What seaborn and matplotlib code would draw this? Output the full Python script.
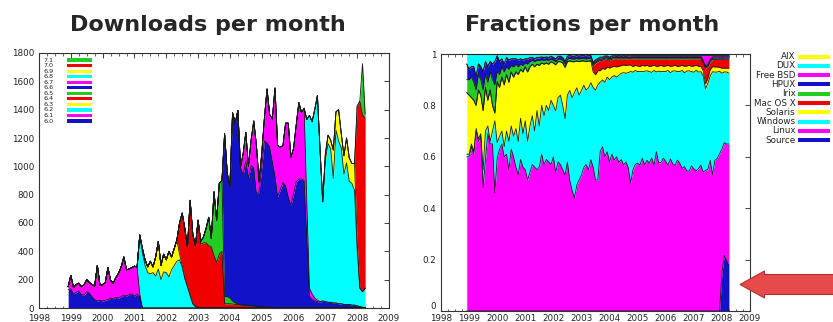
import numpy as np
import pandas as pd
import matplotlib
matplotlib.use("Agg")
import matplotlib.pyplot as plt
import seaborn as sns
from matplotlib.patches import Rectangle, Polygon
from matplotlib.ticker import MultipleLocator

# ---------------- data ----------------
FIRST_YEAR, FIRST_MONTH, N_MONTHS = 1998, 12, 113   # Dec 1998 .. Apr 2008

BLUE, MAGENTA, CYAN, YELLOW, RED, GREEN = "#1212C8", "#FF00FF", "#00FFFF", "#FFFF00", "#F00000", "#22CC22"

# Downloads per month, per release: (first month index, monthly downloads)
versions = ["6.0", "6.1", "6.2", "6.3", "6.4", "6.5", "6.6", "6.7", "6.8", "6.9", "7.0", "7.1"]
version_colors = [BLUE, MAGENTA, CYAN, YELLOW, RED, GREEN, BLUE, MAGENTA, CYAN, YELLOW, RED, GREEN]
v60_start, v60 = 0, [130, 135, 100, 110, 120, 95, 90, 115, 105, 80, 60, 50, 55, 50, 55, 60, 70, 65, 75, 70,
                     80, 90, 85, 95, 100, 85, 95, 80]
v61_start, v61 = 0, [20, 95, 45, 55, 55, 55, 75, 85, 75, 85, 95, 250, 105, 115, 125, 225, 125, 110, 140, 175,
                     210, 270, 185, 180, 185, 210, 195, 20]
v62_start, v62 = 27, [415, 390, 300, 250, 240, 250, 225, 275, 200, 255, 250, 220, 270, 300, 330, 340, 290, 210,
                      150, 90, 30, 10, 5]
v63_start, v63 = 28, [30, 40, 40, 90, 40, 135, 195, 100, 125, 90, 180, 90, 120, 150, 40, 10]
v64_start, v64 = 42, [220, 370, 350, 280, 670, 490, 430, 615, 450, 460, 460, 440, 430, 370, 320, 380, 400, 30,
                      30, 30, 28, 25, 25, 22, 20, 20, 18, 15, 15, 12, 10, 10, 8, 6, 5, 4, 3, 2, 1]
v65_start, v65 = 50, [20, 40, 100, 200, 60, 450, 300, 500, 500, 50, 50, 40, 20, 10, 5]
v66_start, v66 = 59, [1150, 870, 790, 1330, 1270, 1365, 970, 920, 1020, 900, 990, 975, 795, 810, 980, 1170,
                      1160, 1130, 1030, 930, 785, 835, 885, 865, 785, 725, 805, 890, 910, 910, 900, 500, 80,
                      60, 50, 45, 40, 50, 45, 40, 40, 35, 35, 30, 30, 25, 25, 25, 20, 20, 15, 10, 5, 0]
v67_start, v67 = 66, [150, 200, 80, 180, 330, 340, 70, 100, 160, 380, 230, 300, 620, 360, 300, 260, 440, 520,
                      340, 320, 400, 540, 470, 510, 250, 60, 40, 20, 10, 5]
v68_start, v68 = 90, [580, 1220, 1215, 1330, 1445, 1070, 700, 1000, 1120, 1085, 880, 1220, 1150, 1100, 920,
                      1000, 870, 860, 810, 400, 130, 110, 140]
v69_start, v69 = 97, [40, 60, 60, 200, 130, 220, 100, 130, 175, 165, 140, 190, 50]
v70_start, v70 = 109, [960, 1320, 1250, 1200]
v71_start, v71 = 110, [0, 360, 30]

# Fractions per month, per platform (shares of downloads)
platforms = ["Source", "Linux", "Windows", "Solaris", "Mac OS X", "Irix", "HPUX", "Free BSD", "DUX", "AIX"]
platform_colors = [BLUE, MAGENTA, CYAN, YELLOW, RED, GREEN, BLUE, MAGENTA, CYAN, YELLOW]
source = [0, 0, 0, 0, 0, 0, 0, 0, 0, 0, 0, 0, 0, 0, 0, 0, 0, 0, 0, 0,
          0, 0, 0, 0, 0, 0, 0, 0, 0, 0, 0, 0, 0, 0, 0, 0, 0, 0, 0, 0,
          0, 0, 0, 0, 0, 0, 0, 0, 0, 0, 0, 0, 0, 0, 0, 0, 0, 0, 0, 0,
          0, 0, 0, 0, 0, 0, 0, 0, 0, 0, 0, 0, 0, 0, 0, 0, 0, 0, 0, 0,
          0, 0, 0, 0, 0, 0, 0, 0, 0, 0, 0, 0, 0, 0, 0, 0, 0, 0, 0, 0,
          0, 0, 0, 0, 0, 0, 0, 0, 0, 0.15, 0.22, 0.20, 0.18]
linux = [0.60, 0.60, 0.64, 0.61, 0.70, 0.66, 0.68, 0.48, 0.59, 0.69, 0.65, 0.65, 0.46, 0.60, 0.63, 0.65, 0.60, 0.61, 0.55, 0.63,
         0.60, 0.56, 0.53, 0.59, 0.56, 0.55, 0.51, 0.54, 0.57, 0.56, 0.55, 0.56, 0.61, 0.57, 0.59, 0.58, 0.57, 0.60, 0.54, 0.58,
         0.57, 0.55, 0.53, 0.58, 0.51, 0.47, 0.44, 0.49, 0.51, 0.53, 0.56, 0.57, 0.55, 0.59, 0.56, 0.51, 0.51, 0.62, 0.64, 0.60,
         0.62, 0.58, 0.61, 0.59, 0.60, 0.58, 0.59, 0.57, 0.58, 0.56, 0.50, 0.55, 0.57, 0.58, 0.57, 0.60, 0.57, 0.59, 0.58, 0.60,
         0.57, 0.63, 0.58, 0.58, 0.60, 0.59, 0.57, 0.60, 0.58, 0.57, 0.59, 0.58, 0.56, 0.57, 0.55, 0.55, 0.57, 0.56, 0.55, 0.56,
         0.57, 0.55, 0.55, 0.56, 0.59, 0.53, 0.59, 0.60, 0.62, 0.49, 0.445, 0.46, 0.48]
windows = [.01, .01, .01, .01, .01, .01, .01, .07, .11, .03, .01, .05, .28, .06, .05, .05, .04, .09, .11, .09,
           .08, .15, .13, .16, .13, .19, .15, .18, .19, .14, .23, .16, .19, .19, .21, .20, .25, .20, .24, .25,
           .27, .25, .22, .26, .35, .36, .41, .38, .33, .33, .32, .29, .32, .30, .31, .35, .37, .27, .26, .29,
           .29, .32, .30, .33, .31, .34, .335, .36, .345, .37, .435, .38, .365, .36, .365, .34, .365, .35, .36, .335,
           .37, .315, .36, .355, .34, .355, .37, .34, .365, .37, .345, .36, .385, .37, .39, .395, .37, .38, .395, .38,
           .365, .38, .32, .34, .33, .40, .345, .34, .325, .30, .28, .285, .28]
solaris = [.24, .23, .18, .20, .09, .19, .15, .23, .17, .10, .20, .10, .03, .24, .19, .21, .24, .22, .23, .21,
           .23, .22, .26, .19, .24, .21, .27, .23, .20, .25, .18, .235, .165, .20, .165, .18, .15, .165, .18, .14,
           .13, .165, .20, .13, .115, .14, .12, .105, .13, .115, .095, .11, .105, .085, .06, .06, .055, .045, .045, .05,
           .04, .045, .04, .035, .04, .035, .03, .03, .03, .03, .025, .022, .02, .022, .02, .025, .02, .022, .02, .025,
           .02, .022, .02, .025, .02, .022, .02, .025, .02, .022, .02, .022, .02, .025, .02, .022, .02, .025, .02, .022,
           .02, .02, .02, .02, .025, .02, .02, .02, .015, .02, .015, .015, .02]
macosx = [0, 0, 0, 0, 0, 0, 0, 0, 0, 0, 0, 0, 0, 0, 0, 0, 0, 0, 0, 0,
          0, 0, 0, 0, 0, 0, 0, 0, 0, 0, 0, 0, 0, 0, 0, 0, 0, 0, 0, 0,
          0, 0, 0, 0, 0, 0, 0, 0, 0, 0, 0, 0, 0, 0, .025, .045, .035, .04, .03, .04,
          .03, .03, .03, .03, .03, .03, .025, .025, .025, .025, .025, .03, .025, .028, .03, .025, .028, .025, .03, .028,
          .025, .03, .028, .025, .03, .028, .025, .03, .028, .025, .03, .028, .025, .03, .028, .025, .03, .028, .025, .03,
          .03, .03, .06, .045, .03, .028, .03, .03, .032, .035, .035, .035, .035]
irix = [.05, .06, .08, .07, .06, .06, .06, .08, .05, .07, .07, .10, .11, .04, .05, .04, .05, .03, .05, .025,
        .04, .03, .03, .02, .025, .015, .03, .02, .015, .02, .015, .02, .012, .015, .012, .015, .01, .01, .012, .01,
        .01, .01, .012, .01, .01, .01, .01, .01, .01, .01, .01, .01, .01, .01, .005, .006, .005, .005, .006, .005,
        .005, .005, .005, .006, .005, .005, .005, .005, .005, .005, .005, .005, .005, .005, .005, .005, .005, .005, .005, .005,
        .005, .005, .005, .005, .005, .005, .005, .005, .005, .005, .005, .005, .005, .005, .005, .005, .005, .005, .005, .005,
        .005, .005, .005, .005, .005, .005, .005, .005, .005, .005, .005, .005, .005]
hpux = [.06, .04, .04, .06, .05, .04, .05, .07, .05, .06, .04, .06, .09, .06, .05, .03, .03, .035, .035, .025,
        .03, .02, .025, .02, .02, .015, .02, .015, .01, .01, .01, .01, .01, .01, .01, .01, .01, .01, .01, .01,
        .01, .01, .01, .01, .01, .01, .01, .01, .01, .01, .01, .01, .01, .01, .005, .005, .005, .005, .005, .005,
        .005, .005, .005, .005, .005, .005, .005, .005, .005, .005, .005, .005, .005, .005, .005, .005, .005, .005, .005, .005,
        .005, .005, .005, .005, .005, .005, .005, .005, .005, .005, .005, .005, .005, .005, .005, .005, .005, .005, .005, .005,
        .005, .005, .005, .005, .005, .005, .005, .005, .005, .005, .005, .005, .005]
freebsd = [.002, .002, .002, .002, .002, .002, .002, .002, .002, .002, .002, .002, .002, .002, .002, .002, .002, .002, .002, .002,
           .002, .002, .002, .002, .002, .002, .002, .002, .002, .002, .002, .002, .002, .002, .002, .002, .002, .002, .002, .002,
           .002, .002, .002, .002, .002, .002, .002, .002, .002, .002, .002, .002, .002, .002, .003, .003, .003, .003, .003, .003,
           .003, .003, .003, .003, .003, .003, .003, .003, .003, .003, .003, .003, .003, .003, .003, .003, .003, .003, .003, .003,
           .003, .003, .003, .003, .003, .003, .003, .003, .003, .003, .003, .003, .003, .003, .003, .003, .003, .003, .003, .003,
           .003, .02, .04, .035, .015, .005, .005, .005, .005, .005, .005, .005, .005]
dux = [.036, .056, .046, .046, .086, .036, .046, .066, .026, .046, .026, .036, .026, .004, .026, .016, .036, .011, .021, .016,
       .016, .016, .021, .016, .021, .016, .016, .011, .011, .016, .011, .011, .009, .011, .009, .011, .006, .011, .016, .006,
       .006, .011, .026, .006, .003, .006, .006, .003, .006, .003, .003, .006, .003, .003, .03, .02, .015, .01, .01, .005,
       .005, .01, .005, .003, .005, .003, .005, .003, .005, .003, .003, .004, .004, .004, .004, .004, .004, .004, .004, .004,
       .004, .004, .004, .004, .004, .004, .004, .004, .004, .004, .004, .004, .004, .004, .004, .004, .004, .004, .004, .004,
       .004, .004, .004, .004, .004, .004, .004, .004, .004, .004, .004, .004, .004]
aix = [.002, .002, .002, .002, .002, .002, .002, .002, .002, .002, .002, .002, .002, .002, .002, .002, .002, .002, .002, .002,
       .002, .002, .002, .002, .002, .002, .002, .002, .002, .002, .002, .002, .002, .002, .002, .002, .002, .002, .002, .002,
       .002, .002, .002, .002, .002, .002, .002, .002, .002, .002, .002, .002, .002, .002, .002, .002, .002, .002, .002, .002,
       .002, .002, .002, .002, .002, .002, .002, .002, .002, .002, .002, .002, .002, .002, .002, .002, .002, .002, .002, .002,
       .002, .002, .002, .002, .002, .002, .002, .002, .002, .002, .002, .002, .002, .002, .002, .002, .002, .002, .002, .002,
       .002, .002, .002, .002, .002, .002, .002, .002, .002, .002, .002, .002, .002]

year_ticks = [1998, 1999, 2000, 2001, 2002, 2003, 2004, 2005, 2006, 2007, 2008, 2009]
download_ticks = [0, 200, 400, 600, 800, 1000, 1200, 1400, 1600, 1800]
fraction_ticks = [0, 0.2, 0.4, 0.6, 0.8, 1.0]
fraction_labels = ["0", "0.2", "0.4", "0.6", "0.8", "1"]

# ---------------- tables ----------------
months = pd.period_range(f"{FIRST_YEAR}-{FIRST_MONTH:02d}", periods=N_MONTHS, freq="M")
xyear = np.array([p.year + (p.month - 1) / 12.0 for p in months])

version_data = [(v60_start, v60), (v61_start, v61), (v62_start, v62), (v63_start, v63), (v64_start, v64),
                (v65_start, v65), (v66_start, v66), (v67_start, v67), (v68_start, v68), (v69_start, v69),
                (v70_start, v70), (v71_start, v71)]
downloads = pd.DataFrame(0.0, index=xyear, columns=versions)
for name, (start, vals) in zip(versions, version_data):
    downloads.iloc[start:start + len(vals), downloads.columns.get_loc(name)] = vals

shares = pd.DataFrame(dict(zip(platforms, [source, linux, windows, solaris, macosx, irix, hpux, freebsd, dux, aix])),
                      index=xyear)
fractions = shares.div(shares.sum(axis=1), axis=0)

# ---------------- figure ----------------
sns.set_theme(style="white")
plt.rcParams["font.family"] = ["DejaVu Sans"]
W, H = 833, 322
fig = plt.figure(figsize=(W / 100, H / 100), dpi=100)


def fx(px):
    return px / W


def fy(py):
    return 1 - py / H


def stacked(ax, df, colors):
    cum = df.cumsum(axis=1)
    prev = np.zeros(len(df))
    for col, c in zip(df.columns, colors):
        ax.fill_between(df.index, prev, cum[col].values, color=c, lw=0, zorder=2)
        prev = cum[col].values
    for col in df.columns:
        sns.lineplot(x=df.index, y=cum[col].values, ax=ax, color="#1a1a1a", lw=0.6, zorder=3, legend=False)


def style_axes(ax, xpad):
    ax.set_xlim(1998, 2009)
    ax.set_xticks(year_ticks)
    ax.set_xticklabels([str(y) for y in year_ticks])
    ax.xaxis.set_minor_locator(MultipleLocator(0.25))
    ax.tick_params(axis="both", which="major", direction="in", top=True, right=True, length=3.5, width=0.6,
                   labelsize=6.3, colors="#222222")
    ax.tick_params(axis="y", which="major", pad=3.5)
    ax.tick_params(axis="x", which="major", pad=xpad)
    ax.tick_params(axis="x", which="minor", direction="in", top=True, bottom=True, length=1.8, width=0.5)
    for s in ax.spines.values():
        s.set_color("#333333")
        s.set_linewidth(0.8)
    ax.set_xlabel("")
    ax.set_ylabel("")


# left: downloads per month
ax1 = fig.add_axes([fx(39), fy(308), fx(389) - fx(39), fy(53) - fy(308)])
stacked(ax1, downloads, version_colors)
style_axes(ax1, 4)
ax1.set_ylim(0, 1800)
ax1.set_yticks(download_ticks)
ax1.set_yticklabels([str(t) for t in download_ticks])

# right: fractions per month
ax2 = fig.add_axes([fx(441), fy(311), fx(750) - fx(441), fy(54) - fy(311)])
stacked(ax2, fractions, platform_colors)
style_axes(ax2, 2.5)
ax2.set_ylim(0, 1)
ax2.set_yticks(fraction_ticks)
ax2.set_yticklabels(fraction_labels)
ax2.get_yticklabels()[0].set_va("bottom")

# titles
fig.text(fx(208), fy(31), "Downloads per month", ha="center", va="baseline", fontsize=16, fontweight="bold")
fig.text(fx(592), fy(31), "Fractions per month", ha="center", va="baseline", fontsize=16, fontweight="bold")

# left key (inside plot, top-left)
for k, (name, c) in enumerate(zip(versions[::-1], version_colors[::-1])):
    y = 60 + k * 5.55
    fig.text(fx(43), fy(y), name, ha="left", va="center", fontsize=4.6, color="#222222")
    fig.add_artist(Rectangle((fx(67), fy(y + 1.6)), fx(92) - fx(67), fy(y - 1.6) - fy(y + 1.6),
                             transform=fig.transFigure, facecolor=c, edgecolor="none"))

# right key (outside plot)
for k, (name, c) in enumerate(zip(platforms[::-1], platform_colors[::-1])):
    y = 56.7 + k * 9.26
    fig.text(fx(795.5), fy(y), name, ha="right", va="center", fontsize=6.3, color="#222222")
    fig.add_artist(Rectangle((fx(798), fy(y + 2)), fx(830) - fx(798), fy(y - 2) - fy(y + 2),
                             transform=fig.transFigure, facecolor=c, edgecolor="none"))

# red arrow
arrow_pts = [(740, 284.5), (764.5, 271), (764.5, 274.5), (840, 274.5), (840, 294.5), (764.5, 294.5), (764.5, 298)]
fig.add_artist(Polygon([(fx(a), fy(b)) for a, b in arrow_pts], closed=True, transform=fig.transFigure,
                       facecolor="#E8494A", edgecolor="#B33030", lw=0.8))

fig.savefig("out.png", dpi=100)
